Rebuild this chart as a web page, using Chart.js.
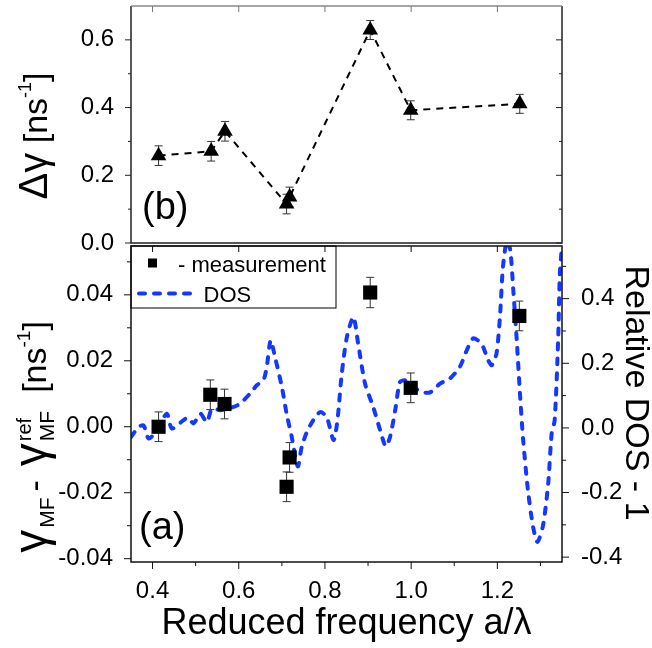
<!DOCTYPE html>
<html>
<head>
<meta charset="utf-8">
<script src="https://cdn.jsdelivr.net/npm/chart.js@4.4.1/dist/chart.umd.min.js"></script>
<style>
  html, body { margin: 0; padding: 0; background: #fff; }
  #wrap { position: relative; width: 652px; height: 648px; overflow: hidden; }
  #botBox { position: absolute; left: 0; top: 0; width: 652px; height: 648px; }
  /* shifted up so the top panel can start 6px below the page edge */
  #topBox { position: absolute; left: 0; top: -40px; width: 652px; height: 330px; }
</style>
</head>
<body>
<div id="wrap">
  <div id="botBox"><canvas id="bottom"></canvas></div>
  <div id="topBox"><canvas id="top"></canvas></div>
</div>
<script>
// panel (b): linewidth difference
const freqB = [0.414, 0.536, 0.568, 0.711, 0.718, 0.905, 0.999, 1.252];
const deltaGamma = [0.258, 0.271, 0.330, 0.115, 0.136, 0.629, 0.392, 0.411];
const deltaGammaErr = [0.029, 0.029, 0.029, 0.029, 0.029, 0.028, 0.028, 0.028];

// panel (a): measured decay rate change
const freqA = [0.414, 0.534, 0.567, 0.711, 0.718, 0.905, 0.999, 1.251];
const gammaDiff = [0.0, 0.0097, 0.0069, -0.0182, -0.0093, 0.0407, 0.0118, 0.0336];
const gammaDiffErr = [0.0045, 0.0045, 0.0045, 0.0045, 0.0045, 0.0046, 0.0045, 0.0045];

// relative DOS - 1 (right axis)
const dosFreq = [0.350, 0.368, 0.379, 0.391, 0.410, 0.433, 0.445, 0.472, 0.483, 0.495,
  0.511, 0.526, 0.538, 0.557, 0.588, 0.603, 0.626, 0.642, 0.657, 0.665,
  0.674, 0.684, 0.700, 0.711, 0.723, 0.737, 0.746, 0.758, 0.773, 0.789,
  0.804, 0.820, 0.829, 0.839, 0.851, 0.866, 0.877, 0.893, 0.912, 0.928,
  0.941, 0.951, 0.963, 0.974, 0.986, 1.005, 1.024, 1.044, 1.067, 1.090,
  1.113, 1.129, 1.144, 1.163, 1.179, 1.187, 1.198, 1.206, 1.213, 1.222,
  1.230, 1.237, 1.245, 1.252, 1.260, 1.271, 1.283, 1.293, 1.306, 1.318,
  1.326, 1.333, 1.341, 1.345, 1.350];
const dosValue = [-0.028, 0.003, 0.008, -0.033, -0.007, 0.044, -0.002, 0.024, 0.032, 0.014,
  0.044, 0.018, 0.060, 0.055, 0.065, 0.075, 0.106, 0.132, 0.147, 0.189,
  0.271, 0.220, 0.127, 0.044, -0.028, -0.119, -0.059, -0.013, 0.024, 0.049,
  0.034, -0.038, 0.024, 0.168, 0.282, 0.343, 0.261, 0.137, 0.065, -0.007,
  -0.057, -0.028, 0.055, 0.142, 0.147, 0.127, 0.111, 0.110, 0.137, 0.153,
  0.189, 0.240, 0.277, 0.261, 0.209, 0.194, 0.230, 0.343, 0.498, 0.580,
  0.550, 0.426, 0.272, 0.116, -0.039, -0.193, -0.307, -0.353, -0.302, -0.172,
  -0.018, 0.024, 0.271, 0.478, 0.565];

// ticks
const xTicks = [0.4, 0.6, 0.8, 1.0, 1.2];
const xMinor = [0.5, 0.7, 0.9, 1.1, 1.3];
const yTicksB = [0, 0.2, 0.4, 0.6];
const yMinorB = [0.1, 0.3, 0.5];
const yTicksA = [-0.04, -0.02, 0, 0.02, 0.04];
const yMinorA = [-0.03, -0.01, 0.01, 0.03, 0.05];
const dosTicks = [-0.4, -0.2, 0, 0.2, 0.4];
const dosMinor = [-0.3, -0.1, 0.1, 0.3, 0.5];

const family = '"Liberation Sans", Arial, sans-serif';
const blue = '#1438ff';

function setTicks(values) {
  return s => { s.ticks = values.map(v => ({ value: v })); };
}

function strokeTicks(ctx, scale, values, len, edge, dir) {
  ctx.beginPath();
  values.forEach(v => {
    const p = scale.getPixelForValue(v);
    if (scale.isHorizontal()) { ctx.moveTo(p, edge); ctx.lineTo(p, edge + dir * len); }
    else { ctx.moveTo(edge, p); ctx.lineTo(edge + dir * len, p); }
  });
  ctx.stroke();
}

// text with sub/superscripts, centred along its own direction
function drawRich(ctx, parts, x, y, angle) {
  ctx.save();
  ctx.translate(x, y);
  ctx.rotate(angle);
  ctx.fillStyle = '#000';
  ctx.textBaseline = 'alphabetic';
  ctx.textAlign = 'left';
  const widths = parts.map(p => {
    ctx.font = p.size + 'px ' + family;
    let w = ctx.measureText(p.t).width;
    if (p.sup) {
      ctx.font = p.supSize + 'px ' + family;
      w = Math.max(w, ctx.measureText(p.sup).width);
    }
    return w + (p.gap || 0);
  });
  let cx = -widths.reduce((a, b) => a + b, 0) / 2;
  parts.forEach((p, i) => {
    ctx.font = p.size + 'px ' + family;
    ctx.fillText(p.t, cx, p.dy || 0);
    if (p.sup) {
      ctx.font = p.supSize + 'px ' + family;
      ctx.fillText(p.sup, cx, p.supDy);
    }
    cx += widths[i];
  });
  ctx.restore();
}

const errorBars = {
  id: 'errorBars',
  beforeDatasetsDraw(chart) {
    const { ctx } = chart;
    chart.data.datasets.forEach((d, i) => {
      if (!d.errors) return;
      const meta = chart.getDatasetMeta(i);
      const ys = chart.scales[meta.yAxisID];
      ctx.save();
      ctx.strokeStyle = '#333';
      ctx.lineWidth = 1;
      d.data.forEach((pt, j) => {
        const px = meta.data[j].x;
        const top = ys.getPixelForValue(pt.y + d.errors[j]);
        const bot = ys.getPixelForValue(pt.y - d.errors[j]);
        ctx.beginPath();
        ctx.moveTo(px, top); ctx.lineTo(px, bot);
        ctx.moveTo(px - 4, top); ctx.lineTo(px + 4, top);
        ctx.moveTo(px - 4, bot); ctx.lineTo(px + 4, bot);
        ctx.stroke();
      });
      ctx.restore();
    });
  }
};

const frameTop = {
  id: 'frameTop',
  afterDraw(chart) {
    const { ctx, chartArea: a, scales: { x, y } } = chart;
    ctx.save();
    ctx.strokeStyle = '#222';
    ctx.lineWidth = 1.5;
    ctx.beginPath();
    ctx.moveTo(a.left, a.top); ctx.lineTo(a.left, a.bottom);
    ctx.lineTo(a.right, a.bottom); ctx.lineTo(a.right, a.top);
    ctx.stroke();
    ctx.strokeStyle = '#888';
    ctx.beginPath();
    ctx.moveTo(a.left, a.top); ctx.lineTo(a.right, a.top);
    ctx.stroke();
    ctx.strokeStyle = '#222';
    ctx.lineWidth = 1;
    strokeTicks(ctx, y, yTicksB, 6, a.left, -1);
    strokeTicks(ctx, y, yMinorB, 3, a.left, -1);
    strokeTicks(ctx, y, yTicksB, 6, a.right, -1);
    strokeTicks(ctx, y, yMinorB, 3, a.right, -1);
    ctx.strokeStyle = '#777';
    strokeTicks(ctx, x, xTicks, 6, a.top, 1);

    drawRich(ctx, [
      { t: 'Δγ', size: 40 },
      { t: ' [ns', size: 34 },
      { t: '-1', size: 18, dy: -16 },
      { t: ']', size: 34 }
    ], 47, a.top + 130, -Math.PI / 2);

    ctx.fillStyle = '#000';
    ctx.font = '38px ' + family;
    ctx.textAlign = 'left';
    ctx.textBaseline = 'alphabetic';
    ctx.fillText('(b)', a.left + 11, a.bottom - 24);
    ctx.restore();
  }
};

const frameBottom = {
  id: 'frameBottom',
  afterDraw(chart) {
    const { ctx, chartArea: a, scales: { x, y, y2 } } = chart;
    const ds = chart.data.datasets;
    ctx.save();
    ctx.strokeStyle = '#111';
    ctx.lineWidth = 1.5;
    ctx.strokeRect(a.left, a.top, a.width, a.height);
    ctx.lineWidth = 1;
    strokeTicks(ctx, x, xTicks, 7, a.bottom, 1);
    strokeTicks(ctx, x, xMinor, 4, a.bottom, 1);
    strokeTicks(ctx, x, xTicks, 6, a.top, 1);
    strokeTicks(ctx, y, yTicksA, 7, a.left, -1);
    strokeTicks(ctx, y, yMinorA, 4, a.left, -1);
    strokeTicks(ctx, y2, dosTicks, 7, a.right, 1);
    strokeTicks(ctx, y2, dosMinor, 4, a.right, 1);

    // legend
    ctx.lineWidth = 1;
    ctx.strokeStyle = '#000';
    ctx.strokeRect(a.left, a.top, 205, 62);
    ctx.fillStyle = '#000';
    ctx.fillRect(a.left + 17, a.top + 12.5, 9, 9);
    ctx.font = '22px ' + family;
    ctx.textAlign = 'left';
    ctx.textBaseline = 'alphabetic';
    ctx.fillText(ds[0].label, a.left + 47, a.top + 26);
    ctx.fillText(ds[1].label, a.left + 72.5, a.top + 56);
    ctx.save();
    ctx.strokeStyle = blue;
    ctx.lineWidth = 4;
    ctx.lineCap = 'round';
    ctx.setLineDash([6, 9]);
    ctx.beginPath();
    ctx.moveTo(a.left + 8, a.top + 47.5);
    ctx.lineTo(a.left + 62, a.top + 47.5);
    ctx.stroke();
    ctx.restore();

    // axis titles
    drawRich(ctx, [
      { t: 'γ', size: 46, gap: 2 },
      { t: 'MF', size: 21, dy: 8, gap: 6 },
      { t: '-', size: 34, gap: 14 },
      { t: 'γ', size: 46, gap: 2 },
      { t: 'MF', size: 21, dy: 8, sup: 'ref', supSize: 20, supDy: -15, gap: 18 },
      { t: '[ns', size: 34 },
      { t: '-1', size: 19, dy: -16 },
      { t: ']', size: 34 }
    ], 46, a.top + 191, -Math.PI / 2);
    drawRich(ctx, [{ t: 'Relative DOS - 1', size: 34 }], a.right + 64, a.top + 147, Math.PI / 2);

    ctx.fillStyle = '#000';
    ctx.font = '38px ' + family;
    ctx.fillText('(a)', a.left + 8, a.bottom - 23);
    ctx.restore();
  }
};

const tickFont = { family: family, size: 24 };

new Chart(document.getElementById('bottom'), {
  type: 'scatter',
  data: {
    datasets: [{
      label: '- measurement',
      data: freqA.map((f, i) => ({ x: f, y: gammaDiff[i] })),
      errors: gammaDiffErr,
      yAxisID: 'y',
      pointStyle: 'rect',
      pointRadius: 10,
      pointBackgroundColor: '#000',
      pointBorderWidth: 0
    }, {
      label: 'DOS',
      data: dosFreq.map((f, i) => ({ x: f, y: dosValue[i] })),
      yAxisID: 'y2',
      showLine: true,
      borderColor: blue,
      borderWidth: 4,
      borderDash: [6, 9],
      borderCapStyle: 'round',
      tension: 0.25,
      pointRadius: 0
    }]
  },
  options: {
    responsive: true,
    maintainAspectRatio: false,
    animation: false,
    layout: { padding: { left: 0, right: 0, top: 246, bottom: 0 } },
    plugins: { legend: { display: false }, tooltip: { enabled: false } },
    scales: {
      x: {
        type: 'linear', min: 0.35, max: 1.35,
        afterBuildTicks: setTicks(xTicks),
        afterFit: s => { s.height = 86; },
        grid: { display: false }, border: { display: false },
        ticks: { padding: 7, color: '#000', font: tickFont, autoSkip: false, maxRotation: 0,
          callback: v => v.toFixed(1) },
        title: { display: true, text: 'Reduced frequency a/λ', color: '#000',
          font: { family: family, size: 36 }, padding: { top: 0, bottom: 2 } }
      },
      y: {
        position: 'left', min: -0.041, max: 0.0548,
        afterBuildTicks: setTicks(yTicksA),
        afterFit: s => { s.width = 131; },
        grid: { display: false }, border: { display: false },
        ticks: { padding: 10, color: '#000', font: tickFont, callback: v => v.toFixed(2) }
      },
      y2: {
        position: 'right', min: -0.415, max: 0.563,
        afterBuildTicks: setTicks(dosTicks),
        afterFit: s => { s.width = 90; },
        grid: { display: false }, border: { display: false },
        ticks: { padding: 11, color: '#000', font: tickFont, callback: v => v.toFixed(1) }
      }
    }
  },
  plugins: [errorBars, frameBottom]
});

new Chart(document.getElementById('top'), {
  type: 'scatter',
  data: {
    datasets: [{
      label: 'Δγ',
      data: freqB.map((f, i) => ({ x: f, y: deltaGamma[i] })),
      errors: deltaGammaErr,
      showLine: true,
      borderColor: '#000',
      borderWidth: 2,
      borderDash: [7, 6],
      pointStyle: 'triangle',
      pointRadius: 9,
      pointBackgroundColor: '#000',
      pointBorderWidth: 0
    }]
  },
  options: {
    responsive: true,
    maintainAspectRatio: false,
    animation: false,
    layout: { padding: { left: 0, right: 90, top: 46, bottom: 47 } },
    plugins: { legend: { display: false }, tooltip: { enabled: false } },
    scales: {
      x: { type: 'linear', min: 0.35, max: 1.35, display: false },
      y: {
        position: 'left', min: 0, max: 0.7,
        afterBuildTicks: setTicks(yTicksB),
        afterFit: s => { s.width = 131; },
        grid: { display: false }, border: { display: false },
        ticks: { padding: 9, color: '#000', font: tickFont, callback: v => v.toFixed(1) }
      }
    }
  },
  plugins: [errorBars, frameTop]
});
</script>
</body>
</html>
